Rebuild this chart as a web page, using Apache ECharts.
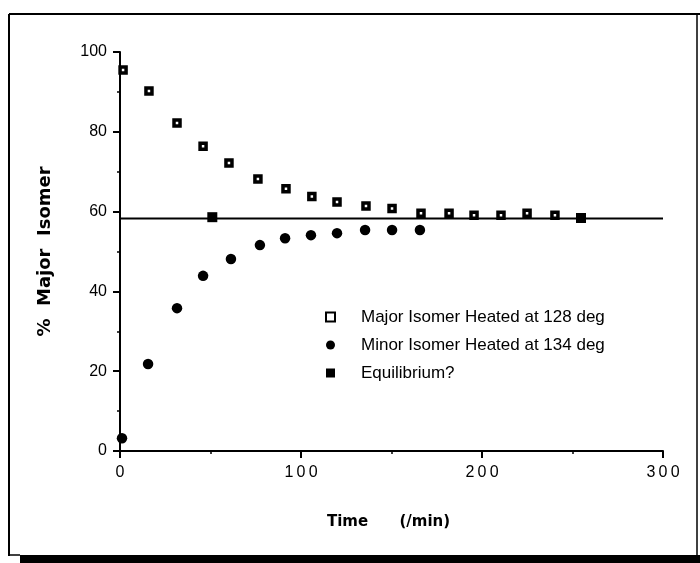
<!DOCTYPE html>
<html>
<head>
<meta charset="utf-8">
<script src="https://cdn.jsdelivr.net/npm/echarts@6/dist/echarts.min.js"></script>
<style>html,body{margin:0;padding:0;background:#fff}#c{width:700px;height:563px}</style>
</head>
<body>
<div id="c"></div>
<script>
// ---- data ----
const majorTime  = [1.7, 16, 31.5, 45.9, 60.2, 76.2, 91.7, 106, 119.9, 135.9, 150.3, 166.3, 181.8, 195.6, 210.5, 224.9, 240.3];
const majorValue = [95.5, 90.2, 82.2, 76.4, 72.2, 68.2, 65.7, 63.8, 62.4, 61.4, 60.8, 59.6, 59.6, 59.1, 59.1, 59.6, 59.1];
const minorTime  = [1.1, 15.5, 31.5, 45.9, 61.3, 77.3, 91.2, 105.5, 119.9, 135.4, 150.3, 165.7];
const minorValue = [3.2, 21.8, 35.8, 43.9, 48.1, 51.6, 53.3, 54.1, 54.6, 55.4, 55.4, 55.4];
const eqTime  = [51, 254.7];
const eqValue = [58.6, 58.4];
const eqLineTime  = [0, 300];
const eqLineValue = [58.3, 58.3];
const seriesNames = ['Major Isomer Heated at 128 deg', 'Minor Isomer Heated at 134 deg', 'Equilibrium?'];
const xTicks = [0, 100, 200, 300];
const yTicks = [0, 20, 40, 60, 80, 100];

const zip = (a, b) => a.map((v, i) => [v, b[i]]);

const chart = echarts.init(document.getElementById('c'), null, {renderer: 'canvas'});
chart.setOption({
  animation: false,
  backgroundColor: '#fff',
  grid: {left: 120, right: 37, top: 52, bottom: 112, containLabel: false},
  xAxis: {
    type: 'value', min: 0, max: 300, interval: 100,
    name: 'Time      (/min)', nameLocation: 'middle', nameGap: 64,
    nameTextStyle: {fontFamily: 'DejaVu Sans', fontWeight: 'bold', fontSize: 15, color: '#000', padding: [0, 6, 0, 0]},
    axisLine: {show: true, onZero: false, lineStyle: {color: '#000', width: 2}},
    axisTick: {show: true, length: 7, lineStyle: {color: '#000', width: 2}},
    minorTick: {show: true, splitNumber: 2, length: 3, lineStyle: {color: '#000', width: 1.5}},
    splitLine: {show: false},
    axisLabel: {margin: 14, color: '#000', fontFamily: 'Liberation Sans', fontSize: 16,
      formatter: v => xTicks.includes(v) ? String(v).split('').join('\u2009') : ''}
  },
  yAxis: {
    type: 'value', min: 0, max: 100, interval: 20,
    name: '%  Major  Isomer', nameLocation: 'middle', nameGap: 66, nameRotate: 90,
    nameTextStyle: {fontFamily: 'DejaVu Sans', fontWeight: 'bold', fontSize: 18, color: '#000', padding: [0, 0, 0, 0]},
    axisLine: {show: true, onZero: false, lineStyle: {color: '#000', width: 2}},
    axisTick: {show: true, length: 7, lineStyle: {color: '#000', width: 2}},
    minorTick: {show: true, splitNumber: 2, length: 3, lineStyle: {color: '#000', width: 1.5}},
    splitLine: {show: false},
    axisLabel: {margin: 13, color: '#000', fontFamily: 'Liberation Sans', fontSize: 16,
      formatter: v => yTicks.includes(v) ? String(v) : ''}
  },
  legend: {
    orient: 'vertical', left: 320, top: 302,
    itemWidth: 9, itemHeight: 9, itemGap: 8,
    data: seriesNames,
    textStyle: {fontFamily: 'Liberation Sans', fontSize: 17, color: '#000', lineHeight: 20, padding: [0, 0, 0, 21]}
  },
  series: [
    {
      name: seriesNames[0], type: 'scatter', symbol: 'rect', symbolSize: 6,
      itemStyle: {color: '#fff', borderColor: '#000', borderWidth: 3.5, opacity: 1},
      data: zip(majorTime, majorValue), z: 4
    },
    {
      name: seriesNames[1], type: 'scatter', symbol: 'circle', symbolSize: 10.5,
      itemStyle: {color: '#000', opacity: 1},
      data: zip(minorTime, minorValue), z: 4
    },
    {
      name: seriesNames[2], type: 'scatter', symbol: 'rect', symbolSize: 10,
      itemStyle: {color: '#000', opacity: 1},
      data: zip(eqTime, eqValue), z: 5
    },
    {
      name: 'eqline', type: 'line', symbol: 'none', silent: true,
      lineStyle: {color: '#000', width: 2},
      data: zip(eqLineTime, eqLineValue), z: 3
    }
  ],
  graphic: [
    {type: 'line', shape: {x1: 9, y1: 14, x2: 700, y2: 14}, style: {stroke: '#000', lineWidth: 2}},
    {type: 'line', shape: {x1: 9, y1: 14, x2: 9, y2: 556}, style: {stroke: '#000', lineWidth: 2}},
    {type: 'line', shape: {x1: 697, y1: 14, x2: 697, y2: 556}, style: {stroke: '#000', lineWidth: 1.5}},
    {type: 'line', shape: {x1: 9, y1: 555, x2: 20, y2: 555}, style: {stroke: '#000', lineWidth: 1.5}},
    {type: 'rect', shape: {x: 20, y: 555, width: 680, height: 8}, style: {fill: '#000'}}
  ]
});
</script>
</body>
</html>
